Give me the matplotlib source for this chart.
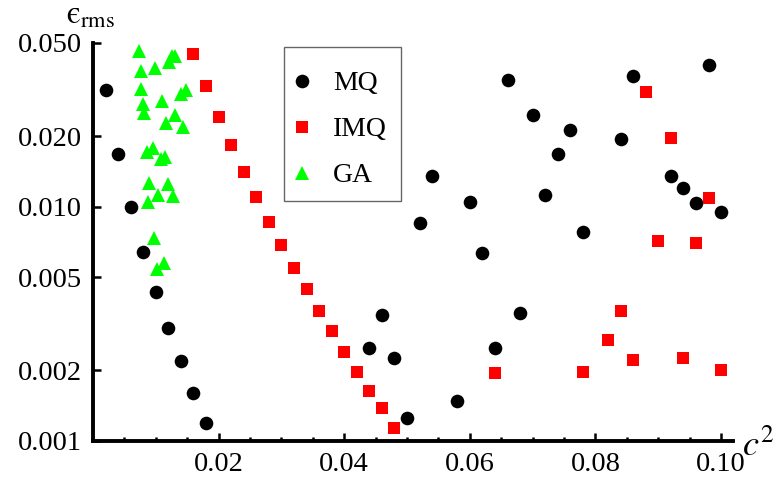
import numpy as np
import matplotlib
matplotlib.use("Agg")
import matplotlib.pyplot as plt
from matplotlib.patches import Rectangle

plt.rcParams['font.family'] = ['Liberation Serif', 'DejaVu Serif']
plt.rcParams['mathtext.fontset'] = 'stix'

# 数据: c^2 与 rms 误差
mq_c2 = [0.002, 0.004, 0.006, 0.008, 0.010, 0.012, 0.014, 0.016, 0.018,
         0.044, 0.046, 0.048, 0.050, 0.052, 0.054, 0.058, 0.060, 0.062,
         0.064, 0.066, 0.068, 0.070, 0.072, 0.074, 0.076, 0.078, 0.084,
         0.086, 0.092, 0.094, 0.096, 0.098, 0.100]
mq_err = [0.0315, 0.0168, 0.00995, 0.0064, 0.00431, 0.00303, 0.00219, 0.00161, 0.00119,
          0.00249, 0.00344, 0.00225, 0.00125, 0.00851, 0.0135, 0.00148, 0.0105, 0.00633,
          0.00249, 0.0347, 0.00351, 0.0246, 0.0112, 0.0168, 0.0212, 0.00778, 0.0194,
          0.0361, 0.0135, 0.0120, 0.0104, 0.0403, 0.00948]

imq_c2 = [0.016, 0.018, 0.020, 0.022, 0.024, 0.026, 0.028, 0.030, 0.032, 0.034,
          0.036, 0.038, 0.040, 0.042, 0.044, 0.046, 0.048, 0.064, 0.078, 0.082,
          0.084, 0.086, 0.088, 0.090, 0.092, 0.094, 0.096, 0.098, 0.100]
imq_err = [0.0449, 0.0328, 0.0241, 0.0184, 0.01405, 0.0110, 0.00859, 0.00685, 0.00546, 0.00444,
           0.00358, 0.00294, 0.00239, 0.00198, 0.00164, 0.00138, 0.00114, 0.00195, 0.00198, 0.00269,
           0.00358, 0.00221, 0.0309, 0.00713, 0.0196, 0.00225, 0.00699, 0.01088, 0.00200]

ga_c2 = [0.0073, 0.0076, 0.0098, 0.0121, 0.0125, 0.0130, 0.0076, 0.0110, 0.0079,
         0.0081, 0.0140, 0.0148, 0.0130, 0.0117, 0.0143, 0.0086, 0.0095, 0.0108,
         0.0114, 0.0089, 0.0119, 0.0087, 0.0103, 0.0127, 0.0097, 0.0113, 0.0102]
ga_err = [0.0462, 0.0380, 0.0391, 0.0415, 0.0440, 0.0440, 0.0318, 0.0283, 0.0274,
          0.0251, 0.0303, 0.0315, 0.0246, 0.0228, 0.0219, 0.0171, 0.0178, 0.0160,
          0.0163, 0.0126, 0.0125, 0.0105, 0.0112, 0.0111, 0.00735, 0.00574, 0.00541]

y_ticks = [0.001, 0.002, 0.005, 0.010, 0.020, 0.050]
y_labels = ['0.001', '0.002', '0.005', '0.010', '0.020', '0.050']
x_ticks = [0.02, 0.04, 0.06, 0.08, 0.10]
x_labels = ['0.02', '0.04', '0.06', '0.08', '0.10']

W, H = 778, 483
fig = plt.figure(figsize=(W / 100, H / 100), dpi=100)
ax = fig.add_axes([93 / W, 1 - 441 / H, (733 - 93) / W, (441 - 43) / H])

ax.plot(mq_c2, mq_err, 'o', color='black', ms=9.8, mew=0, label='MQ', clip_on=False)
ax.plot(imq_c2, imq_err, 's', color='#ff0000', ms=8.4, mew=0, label='IMQ', clip_on=False)
ax.plot(ga_c2, ga_err, '^', color='#00ff00', ms=9.5, mew=0, label='GA', clip_on=False)

ax.set_yscale('log')
ax.set_xlim(0, 0.1019)
ax.set_ylim(0.001, 0.05)

ax.set_yticks(y_ticks)
ax.set_yticklabels(y_labels)
ax.yaxis.set_minor_locator(matplotlib.ticker.NullLocator())
ax.set_xticks(x_ticks)
ax.set_xticklabels(x_labels)
ax.set_xticks(np.arange(0.005, 0.1, 0.005), minor=True)

for s in ['top', 'right']:
    ax.spines[s].set_visible(False)
for s in ['left', 'bottom']:
    ax.spines[s].set_linewidth(2.8)

ax.tick_params(which='major', direction='in', length=5.5, width=1.8, labelsize=20.5, pad=8)
ax.tick_params(which='minor', direction='in', length=3, width=1.8)

# 坐标轴标签
fig.text(91 / W, 1 - 16 / H, r'$\mathrm{ϵ}_{\mathrm{rms}}$', ha='center', va='center', fontsize=23)
fig.text(742 / W, 1 - 456 / H, r'$c^2$', ha='left', va='baseline', fontsize=26)

# 图例: 文字与标记用 legend, 边框单独画
leg = ax.legend(loc='upper left', bbox_to_anchor=(294 / W, 1 - 71 / H),
                bbox_transform=fig.transFigure, fontsize=20, frameon=False,
                borderpad=0, labelspacing=0.74, handlelength=0.6,
                handletextpad=0.8, borderaxespad=0)
fig.patches.append(Rectangle((284 / W, 1 - 201 / H), (401 - 284) / W, (201 - 47) / H,
                             transform=fig.transFigure, fill=False,
                             edgecolor='#666666', linewidth=1.0))

fig.savefig('out.png', dpi=100)
